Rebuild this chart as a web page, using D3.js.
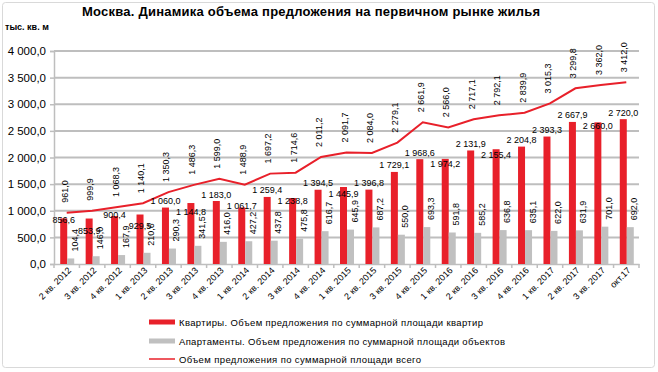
<!DOCTYPE html>
<html>
<head>
<meta charset="utf-8">
<script src="https://cdn.jsdelivr.net/npm/d3@7"></script>
<style>
  body { margin: 0; background: #fff; }
  svg { display: block; font-family: "Liberation Sans", Arial, sans-serif; }
</style>
</head>
<body>
<svg id="chart" width="658" height="372"></svg>
<script>
// categories and series
var quarters = ["2 кв. 2012", "3 кв. 2012", "4 кв. 2012", "1 кв. 2013", "2 кв. 2013", "3 кв. 2013",
    "4 кв. 2013", "1 кв. 2014", "2 кв. 2014", "3 кв. 2014", "4 кв. 2014", "1 кв. 2015", "2 кв. 2015",
    "3 кв. 2015", "4 кв. 2015", "1 кв. 2016", "2 кв. 2016", "3 кв. 2016", "4 кв. 2016", "1 кв. 2017",
    "2 кв. 2017", "3 кв. 2017", "окт.17"];
var flats = [856.6, 853.9, 900.4, 929.5, 1060.0, 1144.8, 1183.0, 1061.7, 1259.4, 1238.8, 1394.5, 1445.9,
    1396.8, 1729.1, 1968.6, 1974.2, 2131.9, 2155.4, 2204.8, 2393.3, 2667.9, 2660.0, 2720.0];
var apartments = [104.4, 146.0, 167.9, 210.6, 290.3, 341.5, 416.0, 427.2, 437.8, 475.8, 616.7, 645.9,
    687.2, 550.0, 693.3, 591.8, 585.2, 636.8, 635.1, 622.0, 631.9, 701.0, 692.0];
var totals = [961.0, 999.9, 1068.3, 1140.1, 1350.3, 1486.3, 1599.0, 1488.9, 1697.2, 1714.6, 2011.2, 2091.7,
    2084.0, 2279.1, 2661.9, 2566.0, 2717.1, 2792.1, 2839.9, 3015.3, 3299.8, 3362.0, 3412.0];
var yTicks = [0, 500, 1000, 1500, 2000, 2500, 3000, 3500, 4000];
var legendItems = [
    "Квартиры. Объем предложения по суммарной площади квартир",
    "Апартаменты. Объем предложения по суммарной площади объектов",
    "Объем предложения по суммарной площади всего"
];

var RED = "#e8202a";
var GREY = "#c0c0c0";
var GRID = "#bebebe";

var svg = d3.select("#chart");

// number format like "1 144,8"
function fmt(v) {
    var s = v.toFixed(1).split(".");
    var int = s[0].replace(/\B(?=(\d{3})+(?!\d))/g, " ");
    return int + "," + s[1];
}

// outer frame
svg.append("rect")
    .attr("x", 2.5).attr("y", 2.5)
    .attr("width", 652).attr("height", 365)
    .attr("rx", 3)
    .attr("fill", "none")
    .attr("stroke", "#d9d9d9");

// title
svg.append("text")
    .attr("x", 311).attr("y", 16)
    .attr("text-anchor", "middle")
    .attr("font-weight", "bold")
    .attr("font-size", 13)
    .attr("textLength", 458)
    .text("Москва. Динамика объема предложения на первичном  рынке жилья");

svg.append("text")
    .attr("x", 5).attr("y", 29.5)
    .attr("font-weight", "bold")
    .attr("font-size", 9)
    .text("тыс. кв. м");

var x = d3.scaleBand().domain(quarters).range([54, 639]).padding(0);
var y = d3.scaleLinear().domain([0, 4000]).range([264, 51]);
var bw = x.bandwidth();
function cx(i) { return x(quarters[i]) + bw / 2; }

// gridlines
svg.append("g")
    .selectAll("line")
    .data(yTicks.slice(1))
    .join("line")
    .attr("x1", 54).attr("x2", 639)
    .attr("y1", function (d) { return y(d); })
    .attr("y2", function (d) { return y(d); })
    .attr("stroke", GRID)
    .attr("stroke-width", 2);

// y axis
var yAxis = svg.append("g")
    .attr("transform", "translate(54,0)")
    .call(d3.axisLeft(y).tickValues(yTicks).tickSize(4).tickFormat(fmt));
yAxis.select(".domain").attr("stroke", GRID).attr("stroke-width", 1.5);
yAxis.selectAll(".tick line").attr("stroke", GRID).attr("stroke-width", 1.5);
yAxis.selectAll(".tick text")
    .attr("font-size", 11.5)
    .attr("font-family", "Liberation Sans, Arial, sans-serif")
    .attr("fill", "#000")
    .attr("x", -8);

// x axis
var xAxis = svg.append("g")
    .attr("transform", "translate(0,264)")
    .call(d3.axisBottom(x).tickSize(0).tickFormat(""));
xAxis.select(".domain").attr("stroke", GRID).attr("stroke-width", 1.5);
svg.append("g")
    .selectAll("line")
    .data(quarters.concat([null]))
    .join("line")
    .attr("x1", function (d, i) { return 54 + i * bw; })
    .attr("x2", function (d, i) { return 54 + i * bw; })
    .attr("y1", 264).attr("y2", 268)
    .attr("stroke", GRID)
    .attr("stroke-width", 1.5);

svg.append("g")
    .selectAll("text")
    .data(quarters)
    .join("text")
    .attr("transform", function (d, i) { return "translate(" + (cx(i) + 5) + ",271) rotate(-45)"; })
    .attr("text-anchor", "end")
    .attr("font-size", 9)
    .attr("fill", "#000")
    .text(function (d) { return d; });

// bars
svg.append("g")
    .selectAll("rect")
    .data(flats)
    .join("rect")
    .attr("x", function (d, i) { return cx(i) - 6.5; })
    .attr("width", 7)
    .attr("y", function (d) { return y(d); })
    .attr("height", function (d) { return y(0) - y(d); })
    .attr("fill", RED);

svg.append("g")
    .selectAll("rect")
    .data(apartments)
    .join("rect")
    .attr("x", function (d, i) { return cx(i) + 0.5; })
    .attr("width", 7)
    .attr("y", function (d) { return y(d); })
    .attr("height", function (d) { return y(0) - y(d); })
    .attr("fill", GREY);

// total line
var line = d3.line()
    .x(function (d, i) { return cx(i); })
    .y(function (d) { return y(d); });
svg.append("path")
    .datum(totals)
    .attr("d", line)
    .attr("fill", "none")
    .attr("stroke", RED)
    .attr("stroke-width", 2);

/* Red bar labels: above the bar, but kept under the total line and
   pushed down when they would sit on top of the previous label */
var flatLabelY = [];
flats.forEach(function (d, i) {
    var c = y(d) - 7;
    if (c - 5 < y(totals[i]) + 1) c = y(totals[i]) + 7;
    if (i > 0 && Math.abs(c - flatLabelY[i - 1]) < 10) c = flatLabelY[i - 1] + 11;
    flatLabelY.push(c);
});

svg.append("g")
    .selectAll("text")
    .data(flats)
    .join("text")
    .attr("x", function (d, i) { return cx(i) - 3; })
    .attr("y", function (d, i) { return flatLabelY[i] + 3.5; })
    .attr("text-anchor", "middle")
    .attr("font-size", 9)
    .text(fmt);

svg.append("g")
    .selectAll("text")
    .data(apartments)
    .join("text")
    .attr("transform", function (d, i) { return "translate(" + (cx(i) + 11) + "," + (y(d) - 7) + ") rotate(-90)"; })
    .attr("font-size", 9)
    .text(fmt);

svg.append("g")
    .selectAll("text")
    .data(totals)
    .join("text")
    .attr("transform", function (d, i) { return "translate(" + (cx(i) + 1) + "," + (y(d) - 10) + ") rotate(-90)"; })
    .attr("font-size", 9)
    .text(fmt);

// legend
var legendW = [304, 326, 242];
var lg = svg.append("g");
legendItems.forEach(function (name, i) {
    var ly = [322, 341, 359][i];
    if (i < 2) {
        lg.append("rect")
            .attr("x", 149).attr("y", ly - 2.5)
            .attr("width", 26).attr("height", 5)
            .attr("fill", i === 0 ? RED : GREY);
    } else {
        lg.append("line")
            .attr("x1", 149).attr("x2", 175)
            .attr("y1", ly).attr("y2", ly)
            .attr("stroke", RED).attr("stroke-width", 1.5);
    }
    lg.append("text")
        .attr("x", 179).attr("y", ly + 3.5)
        .attr("font-size", 9.5)
        .attr("textLength", legendW[i])
        .attr("lengthAdjust", "spacing")
        .text(name);
});
</script>
</body>
</html>
